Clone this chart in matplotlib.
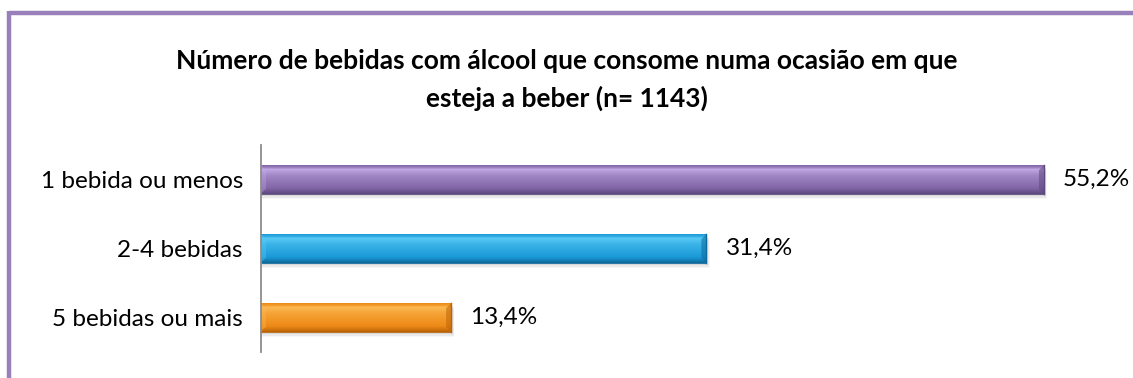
import numpy as np
import matplotlib
matplotlib.use("Agg")
import matplotlib.pyplot as plt
from matplotlib.lines import Line2D
from matplotlib.colors import to_rgb
from matplotlib.patches import Rectangle

categories = ["1 bebida ou menos", "2-4 bebidas", "5 bebidas ou mais"]
values = [55.2, 31.4, 13.4]
value_labels = ["55,2%", "31,4%", "13,4%"]
title = "Número de bebidas com álcool que consome numa ocasião em que\nesteja a beber (n= 1143)"

bar_colors = ["#8165A6", "#1A9AD8", "#EE8A16"]
light_colors = ["#C4AAE6", "#5CCBF7", "#FDBB58"]
dark_colors = ["#5E4A7E", "#0D6A9C", "#BC6508"]

plt.rcParams["font.family"] = ["Lato", "DejaVu Sans"]

fig = plt.figure(figsize=(11.33, 3.78), dpi=100)
fig.patch.set_facecolor("white")

W, H = 1133, 378
ax = fig.add_axes([261 / W, 26 / H, 851 / W, 207 / H])
ax.set_xlim(0, 60)
ax.set_ylim(2.5, -0.5)

bar_h = 0.41
ypos = np.arange(len(categories))


def gradient_for(light, base, dark, n=64):
    l, b, d = np.array(to_rgb(light)), np.array(to_rgb(base)), np.array(to_rgb(dark))
    t = np.linspace(0, 1, n)
    cols = []
    for v in t:
        if v < 0.12:
            c = b + (l - b) * (v / 0.12) * 0.6
        elif v < 0.35:
            c = l + (b - l) * ((v - 0.12) / 0.23) * 0.5
        elif v < 0.8:
            c = (l + b) / 2 + (b - (l + b) / 2) * ((v - 0.35) / 0.45)
        else:
            c = b + (d - b) * ((v - 0.8) / 0.2)
        cols.append(c)
    return np.clip(np.array(cols), 0, 1)[:, None, :]


for y, v, base, light, dark in zip(ypos, values, bar_colors, light_colors, dark_colors):
    # soft shadow beneath each bar
    for k, a in zip(range(1, 5), [0.10, 0.07, 0.05, 0.03]):
        ax.add_patch(Rectangle((0, y - bar_h / 2 + 0.02 * k), v + 0.06 * k, bar_h,
                               facecolor="black", alpha=a, edgecolor="none", zorder=1))
    bar = ax.barh(y, v, height=bar_h, color=base, edgecolor="none", zorder=2)[0]
    img = ax.imshow(gradient_for(light, base, dark), aspect="auto",
                    extent=(0, v, y + bar_h / 2, y - bar_h / 2), zorder=3,
                    interpolation="bilinear")
    img.set_clip_path(bar)
    # bevelled end cap
    cap = 0.35
    ax.add_patch(plt.Polygon([(v - cap, y - bar_h / 2 + 0.07), (v, y - bar_h / 2),
                              (v, y + bar_h / 2), (v - cap, y + bar_h / 2 - 0.07)],
                             closed=True, facecolor=dark, alpha=0.55, edgecolor="none", zorder=4))
    ax.add_patch(plt.Polygon([(0, y - bar_h / 2), (cap, y - bar_h / 2 + 0.07),
                              (cap, y + bar_h / 2 - 0.07), (0, y + bar_h / 2)],
                             closed=True, facecolor=light, alpha=0.35, edgecolor="none", zorder=4))
    ax.plot([0, v], [y + bar_h / 2, y + bar_h / 2], color=dark, lw=1.2, zorder=5)
    ax.plot([v, v], [y - bar_h / 2, y + bar_h / 2], color=dark, lw=1.0, zorder=5)

for y, v, lab in zip(ypos, values, value_labels):
    ax.text(v + 1.35, y, lab, va="center", ha="left", fontsize=17.5, color="black")

ax.set_yticks(ypos)
ax.set_yticklabels(categories, fontsize=17.5)
ax.tick_params(axis="y", length=0, pad=13)
ax.set_xticks([])
for side in ["top", "right", "bottom"]:
    ax.spines[side].set_visible(False)
ax.spines["left"].set_color("#8C8C8C")
ax.spines["left"].set_linewidth(1.3)
ax.spines["left"].set_zorder(6)

fig.text(567 / W, 1 - 80 / H, title, ha="center", va="center", fontsize=19,
         fontweight="bold", linespacing=1.62)

# frame lines along the top and left edge
fig.add_artist(Line2D([9 / W, 1.0], [1 - 12.5 / H, 1 - 12.5 / H], color="#9A80BA", lw=3.2,
                      transform=fig.transFigure, solid_capstyle="butt"))
fig.add_artist(Line2D([9 / W, 9 / W], [0.0, 1 - 11 / H], color="#9A80BA", lw=3.2,
                      transform=fig.transFigure, solid_capstyle="butt"))

fig.savefig("out.png", dpi=100, facecolor="white")
